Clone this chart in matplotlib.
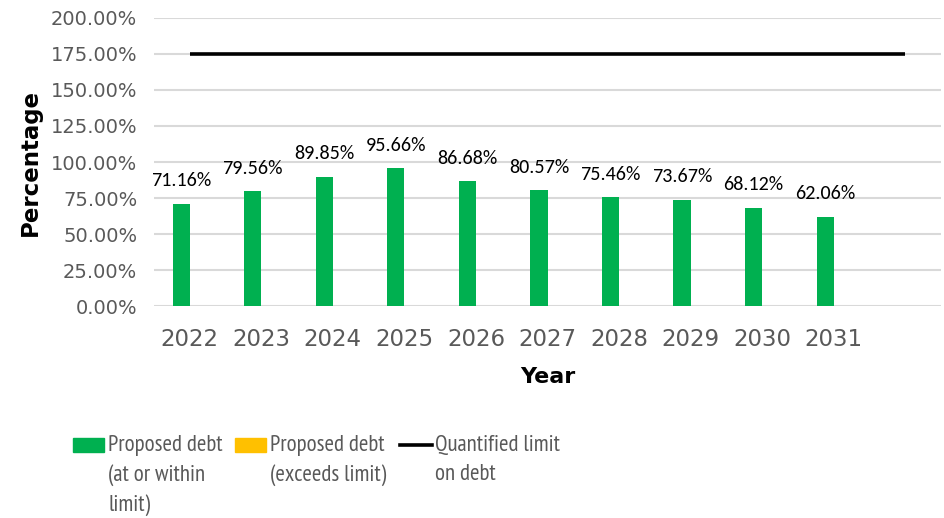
import matplotlib.pyplot as plt
import numpy as np
from matplotlib.patches import Rectangle
from matplotlib.lines import Line2D
from matplotlib.ticker import FuncFormatter

# debt as share of the limit base, per year
years = ['2022', '2023', '2024', '2025', '2026', '2027', '2028', '2029', '2030', '2031', '']
debt_within = [71.16, 79.56, 89.85, 95.66, 86.68, 80.57, 75.46, 73.67, 68.12, 62.06]
debt_exceeds = [0, 0, 0, 0, 0, 0, 0, 0, 0, 0]
debt_limit = [175, 175, 175, 175, 175, 175, 175, 175, 175, 175, 175]

green = '#00b050'
yellow = '#ffc000'
grey_txt = '#595959'

label_fonts = ['Carlito', 'Liberation Sans', 'DejaVu Sans']
narrow_fonts = ['PT Sans Narrow', 'Archivo Narrow', 'Roboto Condensed', 'DejaVu Sans']

fig = plt.figure(figsize=(9.44, 5.18), dpi=100)
ax = fig.add_axes([154 / 944, 212 / 518, 787 / 944, 288 / 518])

x = np.arange(len(years))
xb = np.arange(len(debt_within))
w = 0.24
ax.bar(xb - w / 2, debt_within, width=w, color=green, zorder=3)
ax.bar(xb + w / 2, debt_exceeds, width=w, color=yellow, zorder=3)
ax.plot(x, debt_limit, color='black', lw=2.6, solid_capstyle='butt', zorder=4)

for xi, v in zip(xb, debt_within):
    ax.annotate(f'{v:.2f}%', (xi - w / 2, v), xytext=(0, 16.5), textcoords='offset points',
                ha='center', va='center', fontsize=14.5, family=label_fonts, color='black')

ax.set_xlim(-0.5, len(years) - 0.5)
ax.set_ylim(0, 200)
ax.set_yticks(np.arange(0, 201, 25))
ax.yaxis.set_major_formatter(FuncFormatter(lambda v, p: f'{v:.2f}%'))
ax.set_xticks(x)
ax.set_xticklabels(years)
ax.grid(axis='y', color='#d9d9d9', lw=1.5, zorder=0)
ax.set_axisbelow(True)
for s in ax.spines.values():
    s.set_visible(False)
ax.tick_params(axis='both', length=0)
ax.tick_params(axis='y', labelsize=14, labelcolor=grey_txt, pad=12)
ax.tick_params(axis='x', labelsize=16.5, labelcolor=grey_txt, pad=15.5)

ax.set_xlabel('Year', fontsize=16, fontweight='bold', labelpad=12)
ax.set_ylabel('Percentage', fontsize=16.5, fontweight='bold', labelpad=6)

# legend drawn by hand so keys sit on the first text line
H = 518
leg_font = dict(fontsize=16.5, color=grey_txt, family=narrow_fonts,
                va='top', ha='left', linespacing=1.5)
fig.add_artist(Rectangle((73 / 944, (H - 452) / H), 31 / 944, 14 / H, color=green,
                         transform=fig.transFigure))
fig.text(108 / 944, (H - 435) / H, 'Proposed debt\n(at or within\nlimit)', **leg_font)
fig.add_artist(Rectangle((235 / 944, (H - 452) / H), 31 / 944, 14 / H, color=yellow,
                         transform=fig.transFigure))
fig.text(270 / 944, (H - 435) / H, 'Proposed debt\n(exceeds limit)', **leg_font)
fig.add_artist(Line2D([400 / 944, 432 / 944], [(H - 445) / H] * 2, color='black', lw=2.6,
                      transform=fig.transFigure))
fig.text(435 / 944, (H - 435) / H, 'Quantified limit\non debt', **leg_font)

fig.savefig('out.png', dpi=100)
